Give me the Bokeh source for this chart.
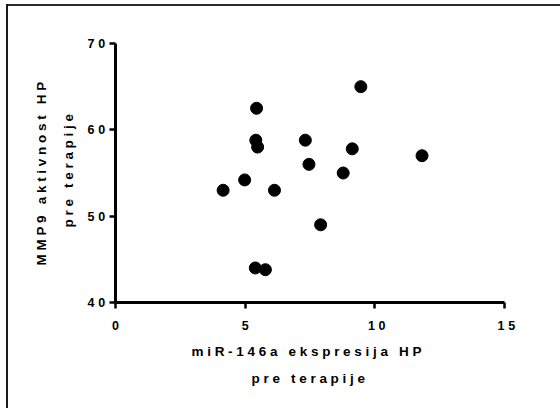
from bokeh.plotting import figure
from bokeh.models import FixedTicker, Range1d, Title
from bokeh.embed import file_html
from bokeh.resources import INLINE

# data
mir146a = [4.15, 4.98, 5.44, 5.41, 5.48, 6.13, 5.39, 5.78, 7.32, 7.46, 7.91, 8.78, 9.13, 9.46, 11.82]
mmp9 = [53.0, 54.2, 62.5, 58.8, 58.0, 53.0, 44.0, 43.8, 58.8, 56.0, 49.0, 55.0, 57.8, 65.0, 57.0]
x_ticks = [0, 5, 10, 15]
y_ticks = [40, 50, 60, 70]
x_title_lines = ["miR-146a ekspresija HP", "pre terapije"]
y_title_lines = ["MMP9 aktivnost HP", "pre terapije"]

FONT = "Liberation Sans"
LS = 3.7  # letter spacing in px (wide tracking as in the reference)

p = figure(width=560, height=408, output_backend="svg", toolbar_location=None,
           x_range=Range1d(0, 15), y_range=Range1d(40, 70),
           min_border_left=115, min_border_right=56, min_border_top=43, min_border_bottom=106)
p.frame_width = 389
p.frame_height = 259
p.background_fill_color = "white"
p.border_fill_alpha = 0
p.outline_line_color = None
p.grid.visible = False
# outer frame of the picture (left and top edges visible) and spaced lettering
p.styles = {
    "background": "linear-gradient(#1a1a1a,#1a1a1a) 6px 4px / 2px 100% no-repeat, "
                  "linear-gradient(#2a2a2a,#2a2a2a) 6px 4px / 100% 2px no-repeat, white",
    "letter-spacing": f"{LS}px",
}

p.scatter(mir146a, mmp9, size=12, color="black", line_color="black")

for ax, ticks in ((p.xaxis[0], x_ticks), (p.yaxis[0], y_ticks)):
    ax.ticker = FixedTicker(ticks=ticks)
    ax.minor_tick_line_color = None
    ax.axis_line_width = 3
    ax.axis_line_color = "black"
    ax.major_tick_line_width = 2.5
    ax.major_tick_line_color = "black"
    ax.major_tick_out = 6
    ax.major_tick_in = 0
    ax.major_label_text_font = FONT
    ax.major_label_text_font_style = "bold"
    ax.major_label_text_font_size = "12.5px"
    ax.major_label_text_color = "black"

p.xaxis.major_label_standoff = 12
p.yaxis.major_label_standoff = 8


def title_line(text, offset, standoff):
    # title line laid out from the frame edge (offset in px along the axis)
    return Title(text=text, align="left", offset=offset, standoff=standoff,
                 text_font=FONT, text_font_style="bold", text_font_size="13.5px",
                 text_color="black")


# x title: first line nearest the axis
p.add_layout(title_line(x_title_lines[0], 76, 18), "below")
p.add_layout(title_line(x_title_lines[1], 136, 3), "below")
# y title: second line nearest the axis
p.add_layout(title_line(y_title_lines[1], 75, 17), "left")
p.add_layout(title_line(y_title_lines[0], 37, 3), "left")

open("out.html", "w").write(file_html(p, INLINE))
